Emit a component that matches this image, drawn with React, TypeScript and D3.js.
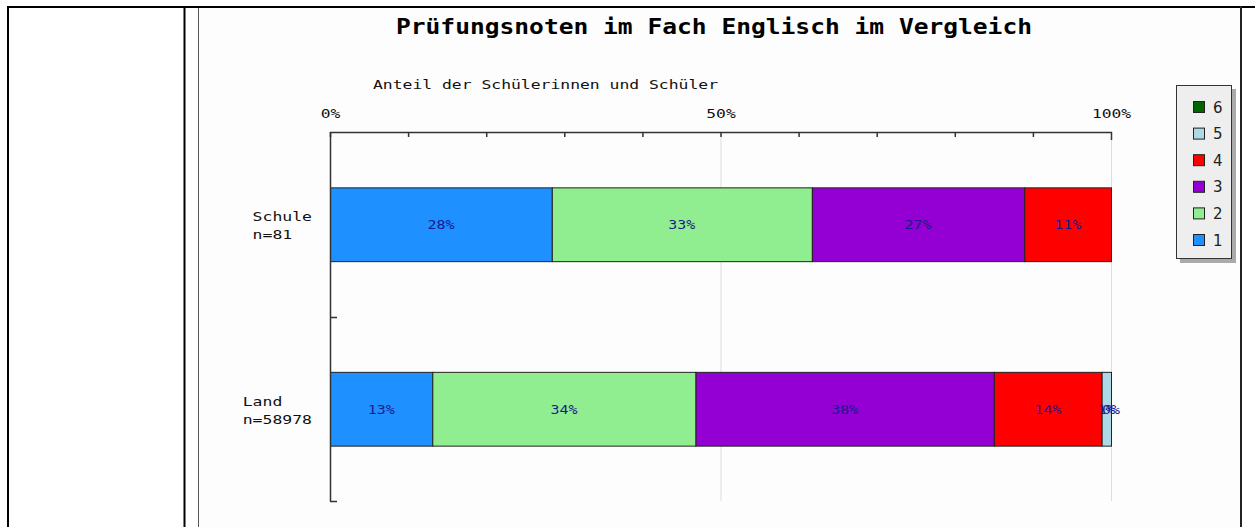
import { useEffect, useRef } from "react"
import * as d3 from "d3"

const categories = ["Schule", "Land"]
const sampleSizes = ["n=81", "n=58978"]
const grades = ["1", "2", "3", "4", "5", "6"]
const gradeColors = ["#1e90ff", "#90ee90", "#9400d3", "#ff0000", "#add8e6", "#006400"]
// share per grade (percent), null = not present
const schuleValues = [28.4, 33.3, 27.2, 11.1, null, null]
const landValues = [13.1, 33.7, 38.2, 13.8, 1.2, 0.0]
const xTicks = [0, 10, 20, 30, 40, 50, 60, 70, 80, 90, 100]
const xTickLabels = ["0%", "50%", "100%"]

const title = "Prüfungsnoten im Fach Englisch im Vergleich"
const axisTitle = "Anteil der Schülerinnen und Schüler"

const mono = "'DejaVu Sans Mono', 'Liberation Mono', monospace"

const App = () => {
  const svgRef = useRef<SVGSVGElement>(null)

  useEffect(() => {
    const svg = d3.select(svgRef.current)
    svg.selectAll("*").remove()

    // page frame (table cells)
    svg.append("rect").attr("x", 0).attr("y", 0).attr("width", 1255).attr("height", 527).attr("fill", "#fff")
    svg.append("rect").attr("x", 199).attr("y", 8).attr("width", 1042).attr("height", 519).attr("fill", "#fdfdfd")
    svg.append("line").attr("x1", 7).attr("x2", 1255).attr("y1", 7).attr("y2", 7).attr("stroke", "#000").attr("stroke-width", 2)
    svg.append("line").attr("x1", 8).attr("x2", 8).attr("y1", 6).attr("y2", 527).attr("stroke", "#000").attr("stroke-width", 2)
    svg.append("line").attr("x1", 184.5).attr("x2", 184.5).attr("y1", 6).attr("y2", 527).attr("stroke", "#000").attr("stroke-width", 2)
    svg.append("line").attr("x1", 198.5).attr("x2", 198.5).attr("y1", 8).attr("y2", 527).attr("stroke", "#555").attr("stroke-width", 1)
    svg.append("line").attr("x1", 1241).attr("x2", 1241).attr("y1", 6).attr("y2", 527).attr("stroke", "#222").attr("stroke-width", 2)

    const x = d3.scaleLinear().domain([0, 100]).range([330, 1111])
    const y = d3.scaleBand().domain(categories).range([132, 501]).paddingInner(0.6).paddingOuter(0.3)

    // title
    svg.append("text")
      .attr("x", 396).attr("y", 34)
      .attr("textLength", 636).attr("lengthAdjust", "spacingAndGlyphs")
      .style("font-family", mono).style("font-weight", "bold").style("font-size", "21px")
      .attr("fill", "#000")
      .text(title)

    svg.append("text")
      .attr("x", 373).attr("y", 89)
      .attr("textLength", 345).attr("lengthAdjust", "spacingAndGlyphs")
      .style("font-family", mono).style("font-size", "13px")
      .attr("fill", "#111")
      .text(axisTitle)

    // gridlines
    ;[50, 100].forEach((v) => {
      svg.append("line")
        .attr("x1", x(v) + 0.5).attr("x2", x(v) + 0.5)
        .attr("y1", 132).attr("y2", 501)
        .attr("stroke", "#dddddd")
    })

    // bars
    const rows = [schuleValues, landValues]
    rows.forEach((vals, ri) => {
      let acc = 0
      const cat = categories[ri]
      vals.forEach((v, gi) => {
        if (v === null) return
        const x0 = x(acc)
        const x1 = x(acc + v)
        svg.append("rect")
          .attr("x", x0 + 0.5).attr("y", y(cat)! + 0.5)
          .attr("width", Math.max(0, x1 - x0)).attr("height", y.bandwidth())
          .attr("fill", gradeColors[gi])
          .attr("stroke", "#222").attr("stroke-width", 1)
        acc += v
      })
      acc = 0
      vals.forEach((v) => {
        if (v === null) return
        const cx = x(acc + v / 2)
        svg.append("text")
          .attr("x", cx).attr("y", y(cat)! + y.bandwidth() / 2 + 5)
          .attr("text-anchor", "middle")
          .style("font-family", mono).style("font-size", "13px")
          .attr("textLength", Math.round(v).toString().length * 9 + 9).attr("lengthAdjust", "spacingAndGlyphs")
          .attr("fill", "#1a1a8c")
          .text(`${Math.round(v)}%`)
        acc += v
      })

      // category labels
      const lines = [cat, sampleSizes[ri]]
      const maxLen = d3.max(lines, (l) => l.length)!
      const lx = 312 - maxLen * 9.9
      lines.forEach((l, li) => {
        svg.append("text")
          .attr("x", lx).attr("y", y(cat)! + y.bandwidth() / 2 - 3 + li * 18)
          .attr("textLength", l.length * 9.9).attr("lengthAdjust", "spacingAndGlyphs")
          .style("font-family", mono).style("font-size", "13px")
          .attr("fill", "#111")
          .text(l)
      })
    })

    // top axis
    const axisColor = "#333"
    svg.append("line").attr("x1", 330).attr("x2", 1112).attr("y1", 132.5).attr("y2", 132.5).attr("stroke", axisColor).attr("stroke-width", 1.5)
    xTicks.forEach((t) => {
      svg.append("line")
        .attr("x1", x(t) + 0.5).attr("x2", x(t) + 0.5)
        .attr("y1", 132).attr("y2", t === 100 ? 140 : 137)
        .attr("stroke", axisColor).attr("stroke-width", 1.5)
    })
    ;[0, 50, 100].forEach((t, i) => {
      const lab = xTickLabels[i]
      svg.append("text")
        .attr("x", x(t) + 0.5).attr("y", 118)
        .attr("text-anchor", "middle")
        .attr("textLength", lab.length * 9.8).attr("lengthAdjust", "spacingAndGlyphs")
        .style("font-family", mono).style("font-size", "13px")
        .attr("fill", "#111")
        .text(lab)
    })

    // left axis
    svg.append("line").attr("x1", 330.5).attr("x2", 330.5).attr("y1", 132).attr("y2", 501.5).attr("stroke", axisColor).attr("stroke-width", 1.5)
    const bounds = [y(categories[1])! - y.step() * y.paddingInner() / 2, 501]
    bounds.forEach((b) => {
      const yy = Math.round(b) + 0.5
      svg.append("line").attr("x1", 330).attr("x2", 337).attr("y1", yy).attr("y2", yy).attr("stroke", axisColor).attr("stroke-width", 1.5)
    })

    // legend
    const lg = svg.append("g")
    lg.append("rect").attr("x", 1180).attr("y", 89).attr("width", 56).attr("height", 174).attr("fill", "#aaa")
    lg.append("rect").attr("x", 1176.5).attr("y", 85.5).attr("width", 55).attr("height", 173).attr("fill", "#eeeeee").attr("stroke", "#333")
    const legendOrder = [5, 4, 3, 2, 1, 0]
    legendOrder.forEach((gi, i) => {
      const yy = 101.5 + i * 26.6
      lg.append("rect").attr("x", 1193.5).attr("y", yy).attr("width", 11).attr("height", 11)
        .attr("fill", gradeColors[gi]).attr("stroke", "#222")
      lg.append("text").attr("x", 1213).attr("y", yy + 11)
        .style("font-family", "'DejaVu Sans', sans-serif").style("font-size", "15px")
        .attr("fill", "#222")
        .text(grades[gi])
    })
  }, [])

  return (
    <svg
      ref={svgRef}
      width={1255}
      height={527}
      style={{ position: "absolute", left: 0, top: 0, display: "block" }}
    ></svg>
  )
}

export default App
